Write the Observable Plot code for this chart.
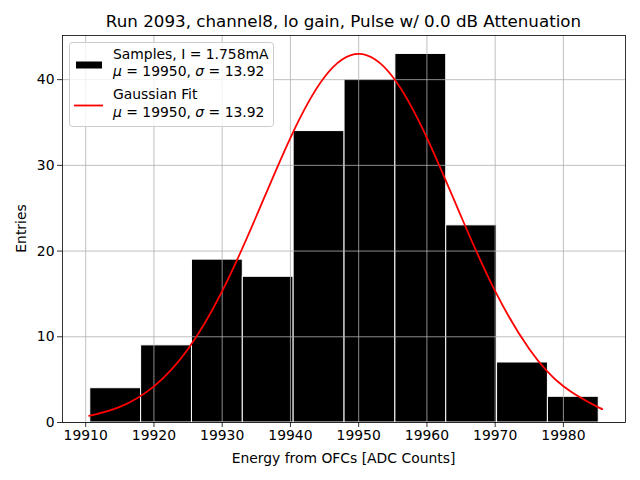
<!DOCTYPE html>
<html>
<head>
<meta charset="utf-8">
<script src="https://cdn.jsdelivr.net/npm/d3@7"></script>
<script src="https://cdn.jsdelivr.net/npm/@observablehq/plot@0.6"></script>
<style>
  html, body { margin: 0; padding: 0; background: white; }
  #chart { width: 640px; height: 480px; }
</style>
</head>
<body>
<div id="chart"></div>
<script>
const binEdges = [19910.67, 19918.12, 19925.57, 19933.02, 19940.47, 19947.93, 19955.38, 19962.83, 19970.28, 19977.73, 19985.18];
const counts = [4, 9, 19, 17, 34, 40, 43, 23, 7, 3];
const fitX = [19910.5, 19915, 19920, 19925, 19930, 19935, 19940, 19945, 19950, 19955, 19960, 19965, 19970, 19975, 19980, 19985, 19985.5];
const fitY = [0.77, 1.82, 4.22, 8.57, 15.32, 24.06, 33.22, 40.31, 43.0, 40.31, 33.22, 24.06, 15.32, 8.57, 4.22, 1.82, 1.66];
const xTicks = [19910, 19920, 19930, 19940, 19950, 19960, 19970, 19980];
const yTicks = [0, 10, 20, 30, 40];
const title = "Run 2093, channel8, lo gain, Pulse w/ 0.0 dB Attenuation";
const xLabel = "Energy from OFCs [ADC Counts]";
const yLabel = "Entries";
const legend1 = "Samples, I = 1.758mA";
const legend2 = "Gaussian Fit";
const mu = "19950", sigma = "13.92";

const bins = counts.map((c, i) => ({x1: binEdges[i], x2: binEdges[i + 1], count: c}));
const fit = fitX.map((x, i) => ({x, y: fitY[i]}));

const font = "DejaVu Sans, sans-serif";
const chart = Plot.plot({
  width: 640, height: 480,
  marginLeft: 62, marginRight: 15, marginTop: 35, marginBottom: 58,
  style: {fontFamily: font, fontSize: "13.9px", background: "white", color: "black", overflow: "visible"},
  x: {domain: [19906.6, 19989.1]},
  y: {domain: [0, 45.15]},
  marks: [
    Plot.rect(bins, {x1: "x1", x2: "x2", y1: 0, y2: "count", fill: "black", stroke: "white", strokeWidth: 1}),
    Plot.gridX(xTicks, {stroke: "#b0b0b0", strokeOpacity: 1, strokeWidth: 0.8}),
    Plot.gridY(yTicks, {stroke: "#b0b0b0", strokeOpacity: 1, strokeWidth: 0.8}),
    Plot.line(fit, {x: "x", y: "y", stroke: "red", strokeWidth: 1.8, curve: "natural"}),
    Plot.frame({stroke: "black", strokeWidth: 0.8}),
    Plot.axisX(xTicks, {tickSize: 5, tickPadding: 3, tickFormat: d3.format("d"), label: null, strokeWidth: 0.8, fontSize: 13.9}),
    Plot.axisY(yTicks, {tickSize: 5, tickPadding: 3, tickFormat: d3.format("d"), label: null, strokeWidth: 0.8, fontSize: 13.9})
  ]
});
document.getElementById("chart").appendChild(chart);

const svg = d3.select(chart);
svg.append("text").attr("x", 343.5).attr("y", 27).attr("text-anchor", "middle")
  .attr("font-family", font).attr("font-size", "16.7px").attr("fill", "black").text(title);
svg.append("text").attr("x", 343.5).attr("y", 462.5).attr("text-anchor", "middle")
  .attr("font-family", font).attr("font-size", "13.9px").attr("fill", "black").text(xLabel);
svg.append("text").attr("transform", "translate(26,228.5) rotate(-90)").attr("text-anchor", "middle")
  .attr("font-family", font).attr("font-size", "13.9px").attr("fill", "black").text(yLabel);

// legend
const lg = svg.append("g").attr("font-family", font).attr("font-size", "13.9px").attr("fill", "black").attr("text-anchor", "start");
lg.append("rect").attr("x", 69.5).attr("y", 42.5).attr("width", 204).attr("height", 84).attr("rx", 3)
  .attr("fill", "white").attr("fill-opacity", 0.8).attr("stroke", "#cccccc").attr("stroke-width", 1);
lg.append("rect").attr("x", 76).attr("y", 61.5).attr("width", 26).attr("height", 7).attr("fill", "black");
lg.append("line").attr("x1", 74).attr("x2", 103).attr("y1", 105.5).attr("y2", 105.5).attr("stroke", "red").attr("stroke-width", 1.8);
function muLine(y) {
  const t = lg.append("text").attr("x", 113).attr("y", y).attr("text-anchor", "start");
  t.append("tspan").attr("font-style", "italic").text("\u03BC");
  t.append("tspan").text(" = " + mu + ", ");
  t.append("tspan").attr("font-style", "italic").text("\u03C3");
  t.append("tspan").text(" = " + sigma);
}
lg.append("text").attr("x", 113).attr("y", 59).attr("text-anchor", "start").text(legend1);
muLine(75.5);
lg.append("text").attr("x", 113).attr("y", 98.5).attr("text-anchor", "start").text(legend2);
muLine(117);
</script>
</body>
</html>
